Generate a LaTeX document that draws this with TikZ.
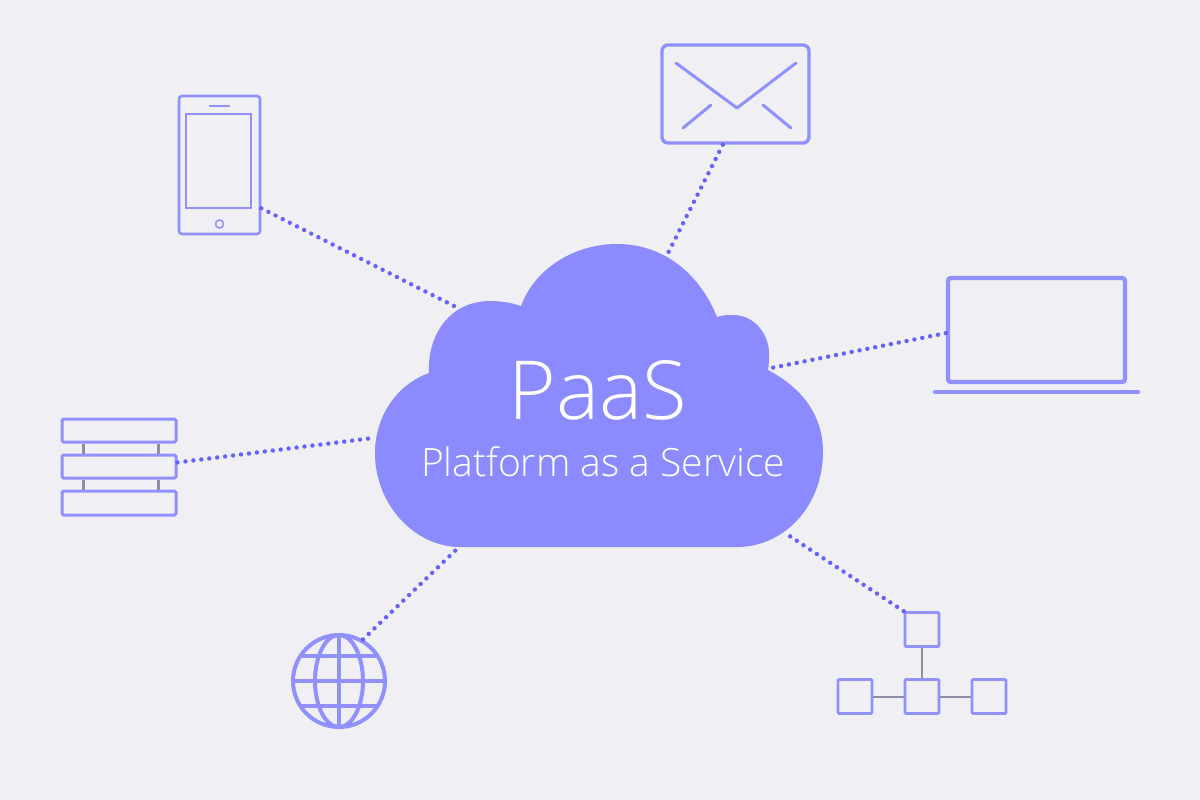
\documentclass[tikz,border=0pt]{standalone}
\usepackage{fontspec}
\setmainfont{Open Sans Light}
\usepackage{xcolor}
\definecolor{bgcol}{HTML}{EFEFF4}
\definecolor{cloudcol}{HTML}{8B8BFF}
\definecolor{iconcol}{HTML}{9090FF}
\definecolor{dotcol}{HTML}{6661F8}
\definecolor{linkcol}{HTML}{8F8CA8}
\tikzset{
  icon/.style={draw=iconcol, rounded corners=3pt, inner sep=0pt, line width=#1},
  icon/.default=3pt,
  iconline/.style={draw=iconcol, line width=#1},
  iconline/.default=3pt,
  link/.style={draw=linkcol, line width=2pt},
  dots/.style={draw=dotcol, line width=4.4pt, line cap=round, dash pattern=on 0pt off 8pt},
  cloudtext/.style={text=white, inner sep=0pt}
}
\begin{document}
\begin{tikzpicture}[x=1pt,y=-1pt]

\fill [bgcol] (0,0) rectangle (1200,800);
\useasboundingbox (0,0) rectangle (1200,800);

% cloud
\fill [cloudcol] (460,547) -- (737,547)
  .. controls (785,547) and (823,505) .. (823,452)
  .. controls (823,415) and (802,388) .. (768,370)
  .. controls (769,365) and (769,358) .. (769,353)
  .. controls (769,335) and (755,315) .. (733,315)
  .. controls (728,315) and (723,315) .. (717,317)
  .. controls (700,275) and (665,244) .. (617,244)
  .. controls (575,244) and (535,268) .. (521,306)
  .. controls (512,303) and (502,301) .. (490,301)
  .. controls (450,301) and (427,335) .. (429,373)
  .. controls (398,384) and (375,415) .. (375,453)
  .. controls (375,505) and (415,547) .. (460,547) -- cycle;
\node [cloudtext, font=\fontsize{81.5}{82}\selectfont] (paas) at (598,390) {PaaS};
\node [cloudtext, font=\fontsize{39}{40}\selectfont] (service) at (603,462) {Platform as a Service};

\coordinate (c1) at (458,308);
\coordinate (c2) at (667,255);
\coordinate (c3) at (771,368);
\coordinate (c4) at (373,438);
\coordinate (c5) at (458,548);
\coordinate (c6) at (785,533);

% phone
\node [icon=2.6pt, minimum width=81pt, minimum height=138pt] (phone) at (219.5,165) {};
\node [icon=2.2pt, rounded corners=0pt, minimum width=65pt, minimum height=94pt] (screen) at (218.5,161) {};
\node [icon=1.6pt, circle, minimum size=8pt] (button) at (219.5,224) {};
\coordinate (sp1) at (210,106);
\coordinate (sp2) at (229,106);
\draw [iconline=2.4pt, line cap=round] (sp1) -- (sp2);

% mail
\node [icon=3.4pt, rounded corners=6pt, minimum width=147pt, minimum height=98pt] (mail) at (735.5,94) {};
\coordinate (m1) at (676,63);
\coordinate (m2) at (737,108);
\coordinate (m3) at (796,63);
\coordinate (m4) at (683,128);
\coordinate (m5) at (711,105);
\coordinate (m6) at (763,105);
\coordinate (m7) at (791,128);
\draw [iconline=3pt, line join=round, line cap=round] (m1) -- (m2) -- (m3);
\draw [iconline=3pt, line cap=round] (m4) -- (m5);
\draw [iconline=3pt, line cap=round] (m6) -- (m7);

% laptop
\node [icon=4.4pt, minimum width=177pt, minimum height=104pt] (laptop) at (1036.5,330) {};
\coordinate (b1) at (935,392);
\coordinate (b2) at (1138,392);
\draw [iconline=4.4pt, line cap=round] (b1) -- (b2);

% server
\node [icon=3pt, rounded corners=1.5pt, minimum width=114pt, minimum height=23pt] (srv1) at (119,430.5) {};
\node [icon=3pt, rounded corners=1.5pt, minimum width=114pt, minimum height=23pt] (srv2) at (119,466.5) {};
\node [icon=3pt, rounded corners=1.5pt, minimum width=114pt, minimum height=24pt] (srv3) at (119,503) {};
\draw [link, line width=3pt] ([xshift=-36pt]srv1.south) -- ([xshift=-36pt]srv2.north);
\draw [link, line width=3pt] ([xshift=39pt]srv1.south) -- ([xshift=39pt]srv2.north);
\draw [link, line width=3pt] ([xshift=-36pt]srv2.south) -- ([xshift=-36pt]srv3.north);
\draw [link, line width=3pt] ([xshift=39pt]srv2.south) -- ([xshift=39pt]srv3.north);

% network
\node [icon=2.6pt, rounded corners=1pt, minimum size=34pt] (net1) at (922,629.5) {};
\node [icon=2.6pt, rounded corners=1pt, minimum size=34pt] (net2) at (855,696.5) {};
\node [icon=2.6pt, rounded corners=1pt, minimum size=34pt] (net3) at (922,696.5) {};
\node [icon=2.6pt, rounded corners=1pt, minimum size=34pt] (net4) at (989,696.5) {};
\draw [link] (net1) -- (net3);
\draw [link] (net2) -- (net3);
\draw [link] (net3) -- (net4);

% globe
\node [icon=4pt, circle, minimum size=92pt] (globe) at (339,681) {};
\draw [iconline=4pt] (globe.center) ellipse [x radius=24pt, y radius=46pt];
\draw [iconline=4pt] (globe.north) -- (globe.south);
\draw [iconline=4pt] (globe.west) -- (globe.east);
\coordinate (g1) at (300.5,656);
\coordinate (g2) at (377.5,656);
\coordinate (g3) at (300.5,706);
\coordinate (g4) at (377.5,706);
\draw [iconline=4pt] (g1) -- (g2);
\draw [iconline=4pt] (g3) -- (g4);

% dotted links
\draw [dots] (phone.-46) -- (c1);
\draw [dots] (mail.-104) -- (c2);
\draw [dots] (laptop.182) -- (c3);
\draw [dots] (srv2.4) -- (c4);
\draw [dots] (globe.60) -- (c5);
\draw [dots] (net1.north west) -- (c6);

\end{tikzpicture}
\end{document}
